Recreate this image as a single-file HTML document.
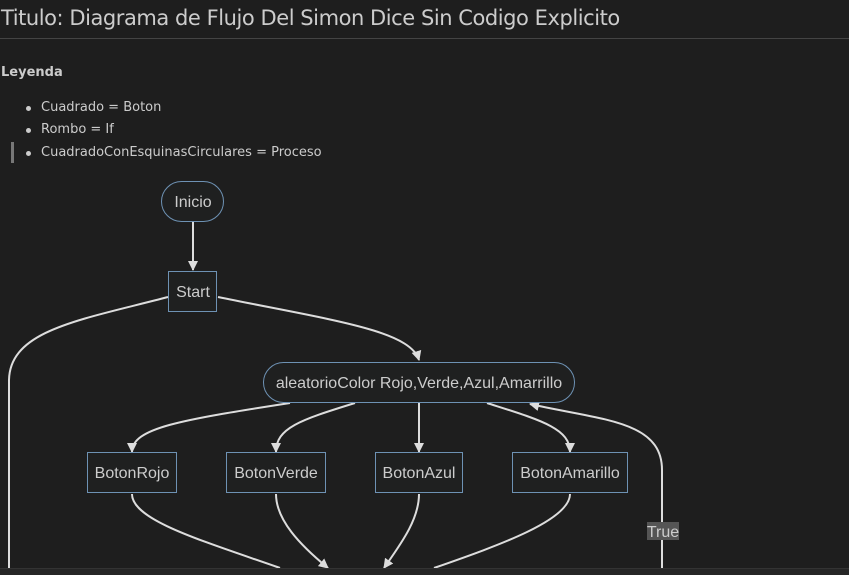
<!DOCTYPE html>
<html><head><meta charset="utf-8"><style>
html,body{margin:0;padding:0;background:#1e1e1e;width:849px;height:574px;overflow:hidden;font-family:"DejaVu Sans","Liberation Sans",sans-serif;color:#ccc}
.t{position:absolute;left:1px;top:6px;font-size:21px;letter-spacing:-0.45px;color:#ccc;white-space:nowrap}
.hr{position:absolute;left:0;top:38px;width:849px;height:1px;background:#444}
.l{position:absolute;font-size:13px;color:#ccc;white-space:nowrap;letter-spacing:0px}
.b{position:absolute;left:26px;width:5px;height:5px;border-radius:50%;background:#ccc}
</style></head><body>
<div class="t">Titulo: Diagrama de Flujo Del Simon Dice Sin Codigo Explicito</div>
<div class="hr"></div>
<div class="l" style="left:1px;top:65px;font-weight:bold">Leyenda</div>
<div class="b" style="top:106px"></div><div class="l" style="left:41px;top:100px">Cuadrado = Boton</div>
<div class="b" style="top:128px"></div><div class="l" style="left:41px;top:122px">Rombo = If</div>
<div style="position:absolute;left:11px;top:142px;width:3px;height:21px;background:#777"></div>
<div class="b" style="top:151px"></div><div class="l" style="left:41px;top:145px">CuadradoConEsquinasCirculares = Proceso</div>
<div style="position:absolute;left:0;top:568px;width:849px;height:6px;background:#262626;border-top:1px solid #333"></div>
<svg width="849" height="568" style="position:absolute;left:0;top:0" font-family="Liberation Sans, sans-serif" font-size="16">
<defs><marker id="a" markerWidth="10" markerHeight="10" refX="9" refY="5" orient="auto" markerUnits="userSpaceOnUse"><path d="M0,0L10,5L0,10z" fill="#ddd"/></marker></defs>
<g fill="none" stroke="#ddd" stroke-width="2">
<path d="M193,221V270" marker-end="url(#a)"/>
<path d="M218,297C330,320 410,330 419,360" marker-end="url(#a)"/>
<path d="M168,297C80,320 10,330 9,380V570"/>
<path d="M290,403C180,420 132,428 132,452" marker-end="url(#a)"/>
<path d="M355,403C300,420 276,428 276,452" marker-end="url(#a)"/>
<path d="M419,403V452" marker-end="url(#a)"/>
<path d="M487,403C540,420 570,428 570,452" marker-end="url(#a)"/>
<path d="M662,570V470C662,420 600,420 530,404" marker-end="url(#a)"/>
<path d="M132,494C132,520 200,540 280,568"/>
<path d="M276,494C276,520 300,545 328,568" marker-end="url(#a)"/>
<path d="M419,494C419,520 400,545 384,568" marker-end="url(#a)"/>
<path d="M570,494C570,520 500,545 434,568"/>
</g>
<g fill="#1f2020" stroke="#6e92b4" stroke-width="1">
<rect x="161.5" y="181.5" width="62" height="40" rx="20"/>
<rect x="168.5" y="271.5" width="48" height="40"/>
<rect x="263.5" y="362.5" width="311" height="40" rx="20"/>
<rect x="87.5" y="452.5" width="89" height="40"/>
<rect x="226.5" y="452.5" width="99" height="40"/>
<rect x="375.5" y="452.5" width="87" height="40"/>
<rect x="512.5" y="452.5" width="115" height="40"/>
</g>
<g fill="#ccc" text-anchor="middle">
<text x="193" y="207">Inicio</text>
<text x="193" y="297">Start</text>
<text x="419" y="388">aleatorioColor Rojo,Verde,Azul,Amarrillo</text>
<text x="132" y="478">BotonRojo</text>
<text x="276" y="478">BotonVerde</text>
<text x="419" y="478">BotonAzul</text>
<text x="570" y="478">BotonAmarillo</text>
</g>
<rect x="647" y="522" width="32" height="18" fill="#555"/>
<text x="663" y="537" fill="#ccc" text-anchor="middle">True</text>
</svg>
</body></html>
